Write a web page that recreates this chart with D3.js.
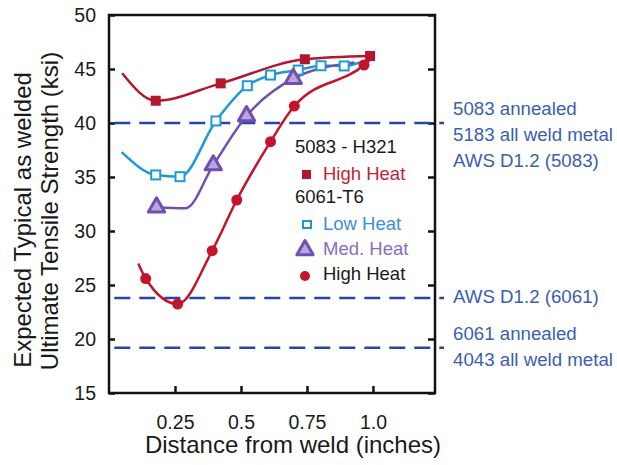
<!DOCTYPE html>
<html>
<head>
<meta charset="utf-8">
<script src="https://cdn.jsdelivr.net/npm/d3@7"></script>
<style>
  body { margin: 0; background: #fff; }
  text { font-family: "Liberation Sans", Arial, sans-serif; }
</style>
</head>
<body>
<div id="chart"></div>
<script>
// Tensile strength vs distance from weld
// each point: [distance (in), strength (ksi), marker? 1/0]
const high5083 = [[0.05, 44.6, 0], [0.177, 42.06, 1], [0.423, 43.67, 1], [0.742, 45.9, 1], [0.989, 46.2, 1]];
const low6061 = [[0.048, 37.3, 0], [0.177, 35.19, 1], [0.269, 35.03, 1], [0.405, 40.19, 1], [0.524, 43.45, 1],
                 [0.612, 44.44, 1], [0.717, 44.9, 1], [0.803, 45.3, 1], [0.891, 45.28, 1], [0.95, 45.6, 0]];
const med6061 = [[0.18, 32.2, 1], [0.29, 32.1, 0], [0.395, 36.1, 1], [0.521, 40.65, 1], [0.698, 44.1, 1], [0.93, 45.6, 0]];
const high6061 = [[0.111, 27.0, 0], [0.139, 25.6, 1], [0.26, 23.24, 1], [0.391, 28.18, 1], [0.484, 32.87, 1],
                  [0.612, 38.27, 1], [0.702, 41.57, 1], [0.966, 45.37, 1], [0.99, 45.9, 0]];

const refValues = [40, 23.8, 19.2];
const refLabels = [
    ["5083 annealed", "5183 all weld metal", "AWS D1.2 (5083)"],
    ["AWS D1.2 (6061)"],
    ["6061 annealed", "4043 all weld metal"]
];

const xTicks = [0.25, 0.5, 0.75, 1.0];
const xTickLabels = ["0.25", "0.5", "0.75", "1.0"];
const yTicks = [15, 20, 25, 30, 35, 40, 45, 50];

const legendRows = [
    { text: "5083 - H321", color: "#1a1a1a", mark: null },
    { text: "High Heat", color: "#c0243a", mark: "fsq" },
    { text: "6061-T6", color: "#1a1a1a", mark: null },
    { text: "Low Heat", color: "#3b8fd6", mark: "osq" },
    { text: "Med. Heat", color: "#8a6cc0", mark: "tri" },
    { text: "High Heat", color: "#1a1a1a", mark: "dot" }
];

const colors = { high5083: "#b3172f", low: "#1e9ad6", med: "#6f4fb0", high6061: "#c4142c", ref: "#2646a6", refText: "#3c5eb0" };

const W = 617, H = 465;
const margin = { top: 15, right: 182, bottom: 72, left: 109 },
    width = W - margin.left - margin.right,
    height = H - margin.top - margin.bottom;

const svg = d3.select("#chart").append("svg")
    .attr("width", W)
    .attr("height", H);
const g = svg.append("g").attr("transform", `translate(${margin.left},${margin.top})`);

const x = d3.scaleLinear().domain([0, 1.235]).range([0, width]);
const y = d3.scaleLinear().domain([15, 50]).range([height, 0]);

// axes, ticks pointing inward
g.append("g")
    .attr("transform", `translate(0,${height})`)
    .call(d3.axisBottom(x).tickValues(xTicks).tickSize(-7).tickFormat((d, i) => xTickLabels[i]).tickPadding(22))
    .call(a => a.select(".domain").remove())
    .call(a => a.selectAll("line").attr("stroke", "#111").attr("stroke-width", 2.5))
    .call(a => a.selectAll("text").attr("font-size", 19.5).attr("fill", "#1a1a1a"));

g.append("g")
    .call(d3.axisLeft(y).tickValues(yTicks).tickSize(-6).tickPadding(13))
    .call(a => a.select(".domain").remove())
    .call(a => a.selectAll("line").attr("stroke", "#111").attr("stroke-width", 2.5))
    .call(a => a.selectAll("text").attr("font-size", 19.5).attr("fill", "#1a1a1a"));

g.append("g")
    .attr("transform", `translate(${width},0)`)
    .call(d3.axisRight(y).tickValues(yTicks).tickSize(-7).tickFormat(""))
    .call(a => a.select(".domain").remove())
    .call(a => a.selectAll("line").attr("stroke", "#111").attr("stroke-width", 2.5));

g.append("rect")
    .attr("width", width)
    .attr("height", height)
    .attr("fill", "none")
    .attr("stroke", "#111")
    .attr("stroke-width", 2.5);

// axis titles
svg.append("text")
    .attr("x", 293)
    .attr("y", 453)
    .attr("text-anchor", "middle")
    .attr("font-size", 24)
    .attr("fill", "#1a1a1a")
    .text("Distance from weld (inches)");

svg.append("text")
    .attr("transform", "translate(31,220) rotate(-90)")
    .attr("text-anchor", "middle")
    .attr("font-size", 24)
    .attr("fill", "#1a1a1a")
    .text("Expected Typical as welded");

svg.append("text")
    .attr("transform", "translate(58,211) rotate(-90)")
    .attr("text-anchor", "middle")
    .attr("font-size", 24)
    .attr("fill", "#1a1a1a")
    .text("Ultimate Tensile Strength (ksi)");

// reference dashed lines + labels
refValues.forEach((v, i) => {
    g.append("line")
        .attr("x1", x(0.02)).attr("x2", width + 9)
        .attr("y1", y(v)).attr("y2", y(v))
        .attr("stroke", colors.ref)
        .attr("stroke-width", 2.5)
        .attr("stroke-dasharray", "16,9");
    const first = refLabels[i].length === 1 ? 5 : -8;
    refLabels[i].forEach((t, j) => {
        g.append("text")
            .attr("x", width + 18)
            .attr("y", y(v) + first + j * 26)
            .attr("font-size", 18.7)
            .attr("fill", colors.refText)
            .text(t);
    });
});

// curves
const line = d3.line()
    .x(d => x(d[0]))
    .y(d => y(d[1]))
    .curve(d3.curveMonotoneX);

[[high5083, colors.high5083], [low6061, colors.low], [med6061, colors.med], [high6061, colors.high6061]]
    .forEach(([data, c]) => {
        g.append("path")
            .datum(data)
            .attr("fill", "none")
            .attr("stroke", c)
            .attr("stroke-width", 2.5)
            .attr("d", line);
    });

const tri = d3.symbol().type(d3.symbolTriangle).size(115);

// markers
g.selectAll(".sq5083").data(high5083.filter(d => d[2])).enter().append("rect")
    .attr("x", d => x(d[0]) - 5).attr("y", d => y(d[1]) - 5)
    .attr("width", 10).attr("height", 10)
    .attr("fill", colors.high5083);

g.selectAll(".sqlow").data(low6061.filter(d => d[2])).enter().append("rect")
    .attr("x", d => x(d[0]) - 4.5).attr("y", d => y(d[1]) - 4.5)
    .attr("width", 9).attr("height", 9)
    .attr("fill", "#fff")
    .attr("stroke", colors.low)
    .attr("stroke-width", 2);

g.selectAll(".trimed").data(med6061.filter(d => d[2])).enter().append("path")
    .attr("transform", d => `translate(${x(d[0])},${y(d[1])})`)
    .attr("d", tri)
    .attr("fill", "#b9a6de")
    .attr("stroke", colors.med)
    .attr("stroke-width", 3)
    .attr("stroke-linejoin", "round");

g.selectAll(".dothigh").data(high6061.filter(d => d[2])).enter().append("circle")
    .attr("cx", d => x(d[0])).attr("cy", d => y(d[1]))
    .attr("r", 5.5)
    .attr("fill", colors.high6061);

// legend
const legend = svg.append("g").attr("transform", "translate(295,153)");
const rowY = [0, 27, 50, 77, 102, 127];
legendRows.forEach((r, i) => {
    const row = legend.append("g").attr("transform", `translate(0,${rowY[i]})`);
    const tx = r.mark ? 28 : 0;
    row.append("text")
        .attr("x", tx)
        .attr("font-size", 18.5)
        .attr("fill", r.color)
        .text(r.text);
    if (r.mark === "fsq") {
        row.append("rect").attr("x", 7).attr("y", -10).attr("width", 9).attr("height", 9).attr("fill", colors.high5083);
    } else if (r.mark === "osq") {
        row.append("rect").attr("x", 8).attr("y", -9).attr("width", 8).attr("height", 7)
            .attr("fill", "#fff").attr("stroke", colors.low).attr("stroke-width", 2);
    } else if (r.mark === "tri") {
        row.append("path").attr("transform", "translate(10,-5)")
            .attr("d", tri).attr("fill", "#b9a6de").attr("stroke", colors.med)
            .attr("stroke-width", 3).attr("stroke-linejoin", "round");
    } else if (r.mark === "dot") {
        row.append("circle").attr("cx", 10).attr("cy", -4).attr("r", 5).attr("fill", colors.high6061);
    }
});
</script>
</body>
</html>
